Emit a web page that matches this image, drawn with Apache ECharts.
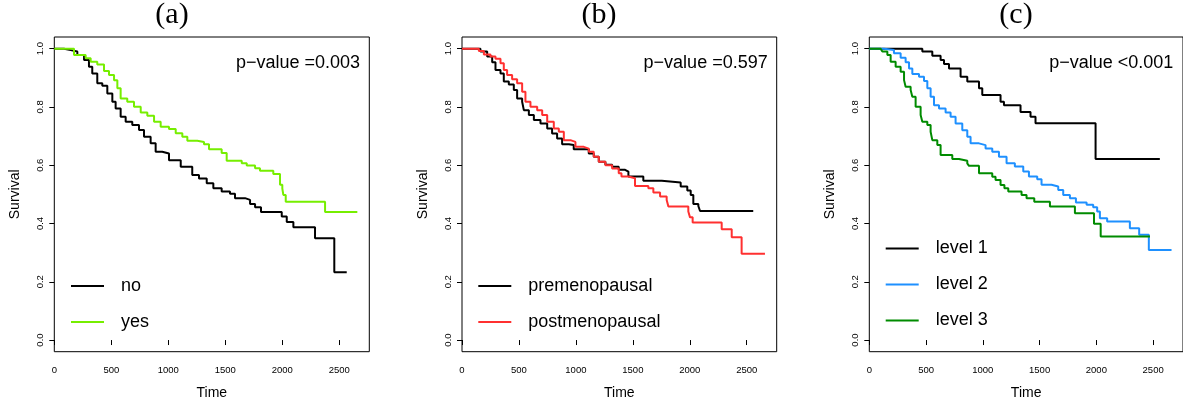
<!DOCTYPE html>
<html>
<head>
<meta charset="utf-8">
<script src="https://cdn.jsdelivr.net/npm/echarts@6/dist/echarts.min.js"></script>
<style>
html,body{margin:0;padding:0;background:#fff;}
#chart{width:1183px;height:405px;}
</style>
</head>
<body>
<div id="chart"></div>
<script>
// ---- tick values ----
const xTicks = [0, 500, 1000, 1500, 2000, 2500];
const yTicks = [0, 0.2, 0.4, 0.6, 0.8, 1.0];

// ---- panel titles / annotations ----
const panelTitles = ['(a)', '(b)', '(c)'];
const pValues = ['p\u2212value =0.003', 'p\u2212value =0.597', 'p\u2212value <0.001'];

// ---- panel (a) ----
const aNames = ['no', 'yes'];
const aNoT = [0,85,144,202,261,304,333,377,421,465,509,538,582,626,684,743,787,845,889,947,1006,1109,1210,1269,1337,1395,1468,1541,1585,1673,1717,1761,1813,1995,2039,2097,2287,2456,2565];
const aNoS = [1,0.995,0.99,0.978,0.961,0.938,0.915,0.881,0.873,0.846,0.818,0.795,0.766,0.749,0.738,0.721,0.698,0.675,0.646,0.64,0.617,0.595,0.566,0.554,0.538,0.521,0.51,0.502,0.487,0.481,0.467,0.456,0.439,0.424,0.405,0.387,0.349,0.2325,0.2325];
const aYesT = [0,173,275,319,377,436,480,524,553,582,640,699,758,816,875,933,1006,1065,1123,1167,1254,1313,1357,1468,1512,1644,1688,1761,1804,1921,1980,2000,2009,2030,2375,2658];
const aYesS = [1,0.978,0.967,0.955,0.946,0.923,0.91,0.892,0.864,0.829,0.818,0.801,0.781,0.77,0.749,0.732,0.724,0.71,0.698,0.684,0.68,0.672,0.655,0.642,0.615,0.607,0.599,0.59,0.581,0.57,0.533,0.52,0.498,0.475,0.439,0.439];

// ---- panel (b) ----
const bNames = ['premenopausal', 'postmenopausal'];
const bPreT = [0,162,221,265,294,338,367,411,455,484,528,543,587,631,689,748,791,835,879,938,981,1113,1157,1201,1259,1318,1376,1432,1461,1592,1754,1920,1978,2008,2031,2075,2090,2557];
const bPreS = [1,0.99,0.973,0.953,0.927,0.915,0.887,0.877,0.858,0.829,0.818,0.789,0.772,0.755,0.743,0.726,0.709,0.692,0.672,0.669,0.655,0.64,0.629,0.612,0.602,0.595,0.584,0.578,0.561,0.547,0.541,0.527,0.513,0.498,0.467,0.46,0.443,0.443];
const bPostT = [0,148,192,250,294,338,367,396,440,484,528,557,601,660,704,748,806,850,894,952,996,1069,1113,1157,1201,1259,1318,1376,1400,1461,1519,1636,1680,1739,1797,1812,1987,2002,2025,2280,2368,2455,2660];
const bPostS = [1,0.992,0.98,0.973,0.965,0.95,0.927,0.91,0.895,0.881,0.852,0.818,0.801,0.789,0.772,0.749,0.726,0.715,0.686,0.68,0.663,0.657,0.646,0.629,0.612,0.6,0.589,0.572,0.561,0.555,0.529,0.521,0.506,0.493,0.481,0.458,0.441,0.421,0.403,0.38,0.353,0.296,0.296];

// ---- panel (c) ----
const cNames = ['level 1', 'level 2', 'level 3'];
const cL1T = [0,467,555,628,658,702,804,863,966,995,1156,1186,1332,1420,1464,1993,2559];
const cL1S = [1,0.99,0.976,0.961,0.947,0.932,0.904,0.887,0.864,0.841,0.818,0.806,0.783,0.766,0.744,0.621,0.621];
const cL2T = [0,129,217,276,320,350,379,438,482,511,540,570,614,672,716,760,819,863,892,966,1024,1083,1142,1209,1282,1356,1406,1479,1517,1605,1664,1708,1767,1820,1914,1972,2007,2031,2095,2295,2377,2462,2662];
const cL2S = [1,0.995,0.984,0.969,0.953,0.932,0.913,0.904,0.889,0.864,0.835,0.806,0.795,0.781,0.766,0.743,0.72,0.698,0.675,0.669,0.657,0.646,0.629,0.607,0.596,0.578,0.561,0.552,0.533,0.527,0.515,0.498,0.487,0.472,0.464,0.456,0.441,0.418,0.407,0.384,0.361,0.309,0.309];
const cL3T = [0,100,115,159,188,232,276,306,320,364,379,408,452,467,511,540,555,599,628,731,790,863,878,966,1083,1112,1156,1190,1224,1341,1385,1453,1591,1811,1979,2038,2472];
const cL3S = [1,0.995,0.99,0.978,0.955,0.938,0.921,0.892,0.869,0.858,0.835,0.801,0.772,0.749,0.738,0.715,0.686,0.669,0.635,0.621,0.615,0.606,0.598,0.572,0.56,0.549,0.532,0.521,0.51,0.498,0.487,0.475,0.458,0.435,0.399,0.355,0.355];

const zip = (t, s) => t.map((v, i) => [v, s[i]]);
const FONT = "'Liberation Sans', Arial, Helvetica, sans-serif";

const grids = [
  {left: 54.3, top: 37, width: 315, height: 314.7},
  {left: 462, top: 37, width: 314.7, height: 314.7},
  {left: 869.3, top: 37, width: 314.5, height: 314.7}
];

const panels = [
  {series: [[aNames[0], aNoT, aNoS, '#000000'], [aNames[1], aYesT, aYesS, '#76EE00']], legendTop: 276, legendLeft: 71},
  {series: [[bNames[0], bPreT, bPreS, '#000000'], [bNames[1], bPostT, bPostS, '#FF3030']], legendTop: 276, legendLeft: 478.3},
  {series: [[cNames[0], cL1T, cL1S, '#000000'], [cNames[1], cL2T, cL2S, '#1E90FF'], [cNames[2], cL3T, cL3S, '#008B00']], legendTop: 238.5, legendLeft: 885.7}
];

const titleX = [172, 599, 1016];
const pRight = [360, 767.7, 1173.3];

const option = {
  animation: false,
  backgroundColor: '#ffffff',
  textStyle: {fontFamily: FONT},
  grid: grids.map(g => Object.assign({show: true, borderColor: '#000', borderWidth: 1, backgroundColor: 'transparent'}, g)),
  xAxis: grids.map((g, i) => ({
    type: 'value', gridIndex: i, min: 0, max: 2763,
    axisLine: {show: false},
    splitLine: {show: false},
    axisTick: {show: true, length: 5, lineStyle: {color: '#000', width: 1}, customValues: xTicks},
    axisLabel: {customValues: xTicks, fontSize: 9.5, color: '#000', margin: 14, fontFamily: FONT,
      formatter: v => String(Math.round(v))},
    name: 'Time', nameLocation: 'middle', nameGap: 34,
    nameTextStyle: {fontSize: 14, color: '#000', fontFamily: FONT}
  })),
  yAxis: grids.map((g, i) => ({
    type: 'value', gridIndex: i, min: -0.04, max: 1.04,
    axisLine: {show: false},
    splitLine: {show: false},
    axisTick: {show: true, length: 5, lineStyle: {color: '#000', width: 1}, customValues: yTicks},
    axisLabel: {customValues: yTicks, fontSize: 9.5, color: '#000', margin: 9, rotate: 90,
      formatter: v => v.toFixed(1), fontFamily: FONT},
    name: 'Survival', nameLocation: 'middle', nameGap: 32, nameRotate: 90,
    nameTextStyle: {fontSize: 14, color: '#000', fontFamily: FONT}
  })),
  legend: panels.map(p => ({
    orient: 'vertical', left: p.legendLeft, top: p.legendTop, padding: 0,
    data: p.series.map(s => s[0]),
    icon: 'rect', itemWidth: 33, itemHeight: 2, itemGap: 16,
    selectedMode: false,
    textStyle: {fontSize: 18, color: '#000', lineHeight: 20, padding: [0, 0, 0, 12], fontFamily: FONT}
  })),
  series: [],
  graphic: []
};

panels.forEach((p, i) => {
  p.series.forEach(s => {
    option.series.push({
      name: s[0], type: 'line', step: 'end', xAxisIndex: i, yAxisIndex: i,
      showSymbol: false, symbol: 'none',
      lineStyle: {color: s[3], width: 2},
      itemStyle: {color: s[3]},
      data: zip(s[1], s[2])
    });
  });
  option.graphic.push({
    type: 'text', x: titleX[i], y: 15,
    style: {text: panelTitles[i], font: "30px 'Liberation Serif', 'DejaVu Serif', serif", fill: '#000', textAlign: 'center', textVerticalAlign: 'middle'}
  });
  option.graphic.push({
    type: 'text', x: pRight[i], y: 63,
    style: {text: pValues[i], font: "18px " + FONT, fill: '#000', textAlign: 'right', textVerticalAlign: 'middle'}
  });
});

const chart = echarts.init(document.getElementById('chart'), null, {renderer: 'canvas'});
chart.setOption(option);
</script>
</body>
</html>
